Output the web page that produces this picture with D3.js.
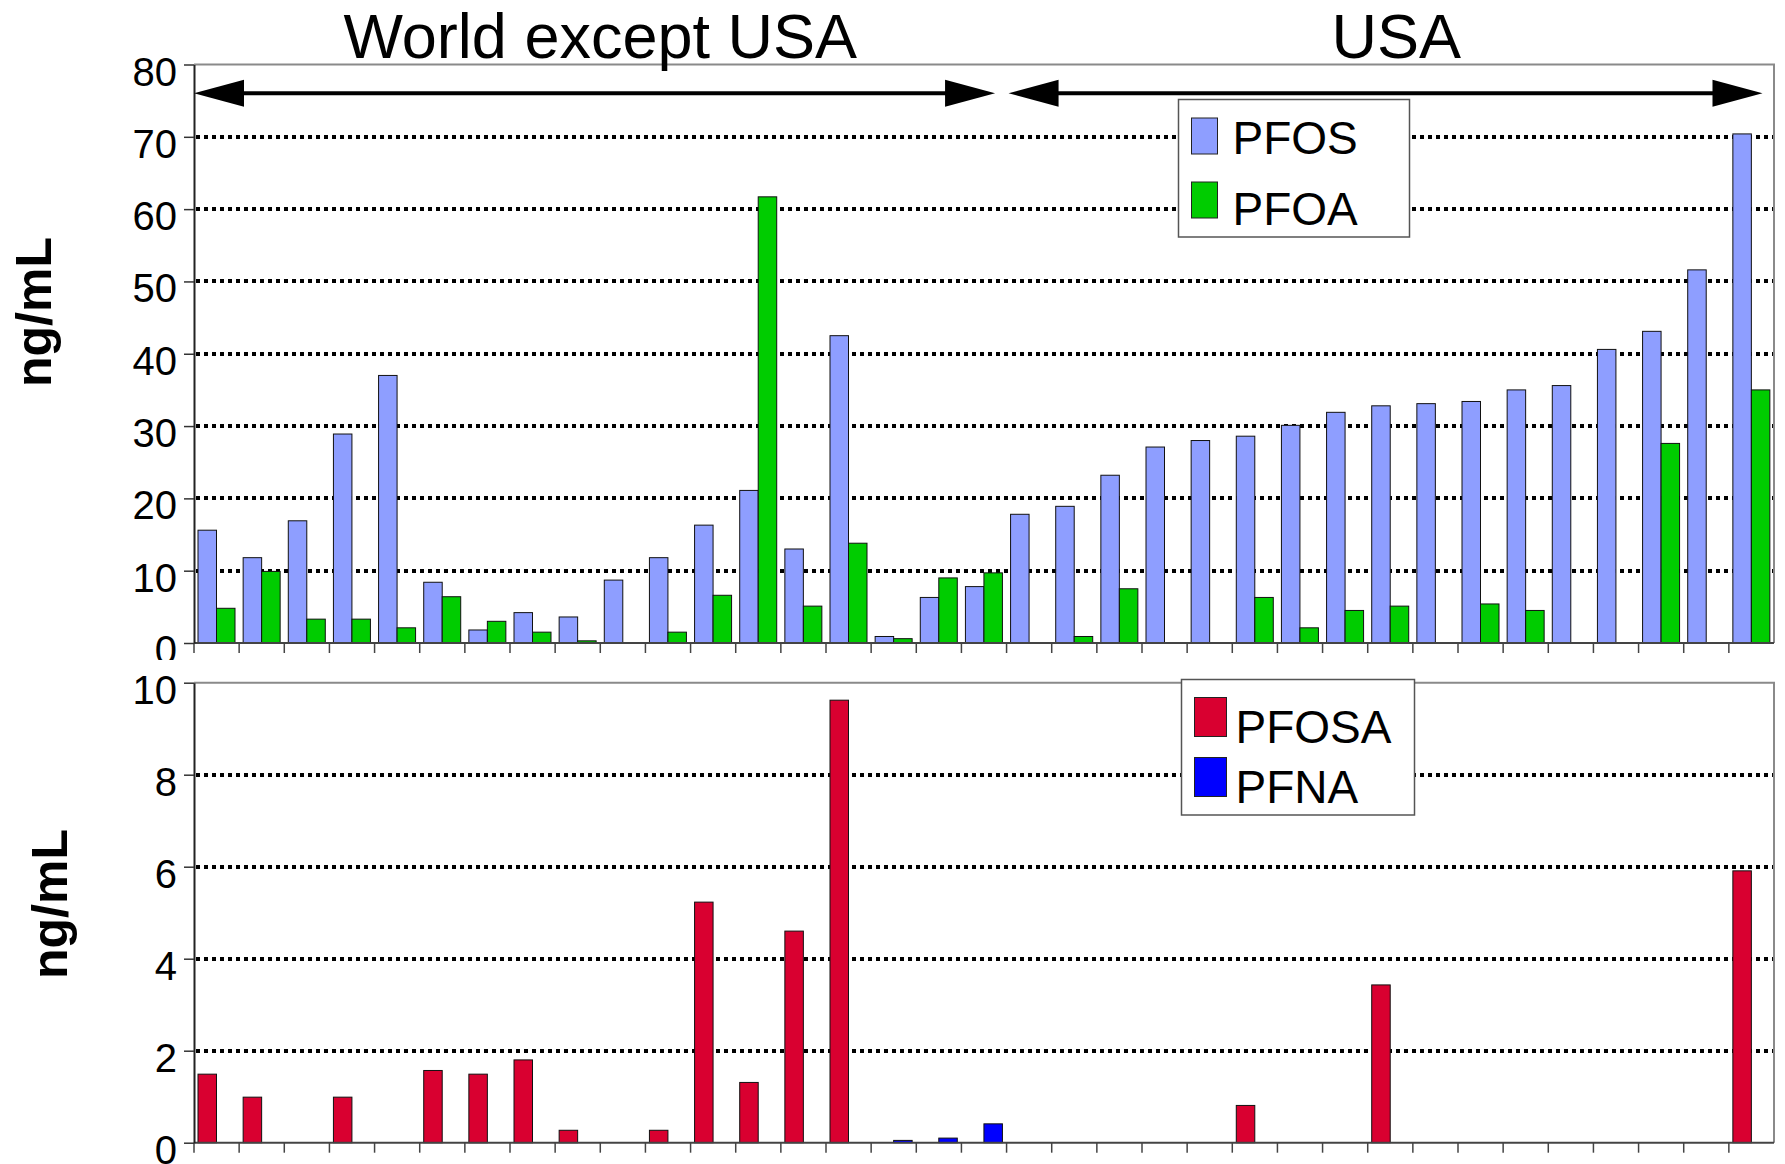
<!DOCTYPE html>
<html>
<head>
<meta charset="utf-8">
<script src="https://cdn.jsdelivr.net/npm/d3@7"></script>
<style>
  body { margin: 0; background: #fff; }
  text { font-family: 'Liberation Sans', Arial, sans-serif; }
</style>
</head>
<body>
<div id="vis"></div>
<script>

var width = 1785,
  height = 1164;

/* Data */

var regions = [ 'World except USA', 'USA' ];
var regionSizes = [ 18, 17 ];

// one entry per sampling site, left to right
var sites = d3.range( 1, 36 );

var pfos = [ 15.6, 11.8, 16.9, 28.9, 37.0, 8.4, 1.8, 4.2, 3.6, 8.7, 11.8, 16.3, 21.1, 13.0, 42.5, 0.9, 6.3, 7.8,
  17.8, 18.9, 23.2, 27.1, 28.0, 28.6, 30.1, 31.9, 32.8, 33.1, 33.4, 35.0, 35.6, 40.6, 43.1, 51.6, 70.4 ];

var pfoa = [ 4.8, 9.9, 3.3, 3.3, 2.1, 6.4, 3.0, 1.5, 0.3, null, 1.5, 6.6, 61.7, 5.1, 13.8, 0.6, 9.0, 9.7,
  null, 0.9, 7.5, null, null, 6.3, 2.1, 4.5, 5.1, null, 5.4, 4.5, null, null, 27.6, null, 35.0 ];

var pfosa = [ 1.49, 0.99, null, 0.99, null, 1.57, 1.49, 1.80, 0.27, null, 0.27, 5.23, 1.31, 4.60, 9.62, null, null, null,
  null, null, null, null, null, 0.81, null, null, 3.43, null, null, null, null, null, null, null, 5.91 ];

var pfna = [ null, null, null, null, null, null, null, null, null, null, null, null, null, null, null, 0.05, 0.10, 0.41,
  null, null, null, null, null, null, null, null, null, null, null, null, null, null, null, null, null ];

var topTicks = [ 0, 10, 20, 30, 40, 50, 60, 70, 80 ];
var bottomTicks = [ 0, 2, 4, 6, 8, 10 ];

var colors = {
  PFOS: '#8e9eff',
  PFOA: '#00cc00',
  PFOSA: '#d90030',
  PFNA: '#0000ff'
};

/* Scales */

var left = 194,
  right = 1774;

var x = d3.scaleBand()
  .domain( sites )
  .range( [ left, right ] )
  .padding( 0 );

var slot = d3.scaleBand()
  .domain( [ 0, 1 ] )
  .range( [ 4, 41 ] );

var yTop = d3.scaleLinear()
  .domain( [ 0, 80 ] )
  .range( [ 643, 64.5 ] );

var yBottom = d3.scaleLinear()
  .domain( [ 0, 10 ] )
  .range( [ 1142.7, 682.7 ] );

/* Drawing */

var svg = d3.select( '#vis' ).append( 'svg' )
  .attr( 'width', width )
  .attr( 'height', height );

function draw_panel( g, y, ticks, series ) {

  var y0 = y( 0 ),
    yMax = y( ticks[ ticks.length - 1 ] );

  // dotted gridlines
  g.selectAll( 'line.grid' )
    .data( ticks.slice( 1, -1 ) )
    .enter().append( 'line' )
      .attr( 'class', 'grid' )
      .attr( 'x1', left + 2 )
      .attr( 'x2', right )
      .attr( 'y1', d => Math.round( y( d ) ) )
      .attr( 'y2', d => Math.round( y( d ) ) )
      .attr( 'stroke', '#000' )
      .attr( 'stroke-width', 4 )
      .attr( 'stroke-dasharray', '4,4' )
      .attr( 'shape-rendering', 'crispEdges' );

  // frame top and right
  g.append( 'path' )
    .attr( 'd', 'M' + left + ',' + yMax + 'H' + right + 'V' + y0 )
    .attr( 'fill', 'none' )
    .attr( 'stroke', '#8a8a8a' )
    .attr( 'stroke-width', 2 );

  // bars
  series.forEach( ( s, k ) => {
    g.selectAll( 'rect.s' + k )
      .data( s.values.map( ( v, i ) => ( { site: sites[ i ], v: v } ) ).filter( d => d.v != null ) )
      .enter().append( 'rect' )
        .attr( 'class', 's' + k )
        .attr( 'x', d => x( d.site ) + slot( s.slot ) )
        .attr( 'y', d => y( d.v ) )
        .attr( 'width', slot.bandwidth() )
        .attr( 'height', d => y0 - y( d.v ) )
        .attr( 'fill', s.color )
        .attr( 'stroke', '#111' )
        .attr( 'stroke-width', 1 );
  } );

  // x axis with ticks at site boundaries
  g.append( 'line' )
    .attr( 'x1', left )
    .attr( 'x2', right )
    .attr( 'y1', y0 )
    .attr( 'y2', y0 )
    .attr( 'stroke', '#444' )
    .attr( 'stroke-width', 2 );

  g.selectAll( 'line.xtick' )
    .data( sites )
    .enter().append( 'line' )
      .attr( 'class', 'xtick' )
      .attr( 'x1', d => x( d ) )
      .attr( 'x2', d => x( d ) )
      .attr( 'y1', y0 )
      .attr( 'y2', y0 + 10 )
      .attr( 'stroke', '#444' )
      .attr( 'stroke-width', 1.5 );

  // y axis
  var axis = g.append( 'g' )
    .attr( 'transform', 'translate(' + left + ',0)' )
    .call( d3.axisLeft( y ).tickValues( ticks ).tickSize( 10 ).tickPadding( 7 ).tickSizeOuter( 0 ) );

  axis.select( '.domain' )
    .attr( 'stroke', '#222' )
    .attr( 'stroke-width', 2 );

  axis.selectAll( '.tick line' )
    .attr( 'stroke', '#333' )
    .attr( 'stroke-width', 1.5 );

  axis.selectAll( '.tick text' )
    .attr( 'dy', '20.5px' )
    .attr( 'fill', '#000' )
    .style( 'font-family', "'Liberation Sans', Arial, sans-serif" )
    .style( 'font-size', '40px' );

}

function draw_legend( g, box, items ) {

  g.append( 'rect' )
    .attr( 'x', box.x )
    .attr( 'y', box.y )
    .attr( 'width', box.w )
    .attr( 'height', box.h )
    .attr( 'fill', '#fff' )
    .attr( 'stroke', '#555' )
    .attr( 'stroke-width', 1.5 );

  items.forEach( it => {
    g.append( 'rect' )
      .attr( 'x', box.x + 13 )
      .attr( 'y', it.top )
      .attr( 'width', box.sw )
      .attr( 'height', box.sh )
      .attr( 'fill', colors[ it.name ] )
      .attr( 'stroke', '#222' )
      .attr( 'stroke-width', 1 );

    g.append( 'text' )
      .attr( 'x', box.x + 54 )
      .attr( 'y', it.base )
      .style( 'font-size', '46px' )
      .text( it.name );
  } );

}

// Top panel: PFOS / PFOA

var topPanel = svg.append( 'g' );

draw_panel( topPanel, yTop, topTicks, [
  { values: pfos, color: colors.PFOS, slot: 0 },
  { values: pfoa, color: colors.PFOA, slot: 1 }
] );

draw_legend( topPanel, { x: 1178.5, y: 99.5, w: 231, h: 137.5, sw: 26, sh: 36 }, [
  { name: 'PFOS', top: 118, base: 154 },
  { name: 'PFOA', top: 182, base: 225 }
] );

// region titles and arrows
var arrowY = 93.3,
  headLen = 50,
  headHalf = 13.5;

var start = 0;
regions.forEach( ( r, i ) => {
  var first = sites[ start ],
    last = sites[ start + regionSizes[ i ] - 1 ];
  var x0 = x( first ) + ( i === 0 ? 0 : 2 ),
    x1 = x( last ) + x.bandwidth() - 11.5;

  topPanel.append( 'line' )
    .attr( 'x1', x0 + headLen - 2 )
    .attr( 'x2', x1 - headLen + 2 )
    .attr( 'y1', arrowY )
    .attr( 'y2', arrowY )
    .attr( 'stroke', '#000' )
    .attr( 'stroke-width', 4 );

  topPanel.append( 'path' )
    .attr( 'd', 'M' + x0 + ',' + arrowY + 'L' + ( x0 + headLen ) + ',' + ( arrowY - headHalf ) + 'V' + ( arrowY + headHalf ) + 'Z' )
    .attr( 'fill', '#000' );

  topPanel.append( 'path' )
    .attr( 'd', 'M' + x1 + ',' + arrowY + 'L' + ( x1 - headLen ) + ',' + ( arrowY - headHalf ) + 'V' + ( arrowY + headHalf ) + 'Z' )
    .attr( 'fill', '#000' );

  topPanel.append( 'text' )
    .attr( 'x', ( x( first ) + x( last ) + x.bandwidth() ) / 2 + ( i === 0 ? 0 : 6 ) )
    .attr( 'y', 58 )
    .attr( 'text-anchor', 'middle' )
    .style( 'font-size', '63px' )
    .text( r );

  start += regionSizes[ i ];
} );

topPanel.append( 'text' )
  .attr( 'transform', 'translate(51,312) rotate(-90)' )
  .attr( 'text-anchor', 'middle' )
  .style( 'font-size', '50px' )
  .style( 'font-weight', 'bold' )
  .text( 'ng/mL' );

// Bottom panel: PFOSA / PFNA (covers the overflow of the top panel)

var bottomPanel = svg.append( 'g' );

bottomPanel.append( 'rect' )
  .attr( 'x', 0 )
  .attr( 'y', 660 )
  .attr( 'width', width )
  .attr( 'height', height - 660 )
  .attr( 'fill', '#fff' );

draw_panel( bottomPanel, yBottom, bottomTicks, [
  { values: pfosa, color: colors.PFOSA, slot: 0 },
  { values: pfna, color: colors.PFNA, slot: 1 }
] );

draw_legend( bottomPanel, { x: 1181.5, y: 679.5, w: 233, h: 135.5, sw: 32, sh: 39 }, [
  { name: 'PFOSA', top: 697.5, base: 742.7 },
  { name: 'PFNA', top: 757.5, base: 803.3 }
] );

bottomPanel.append( 'text' )
  .attr( 'transform', 'translate(67,904) rotate(-90)' )
  .attr( 'text-anchor', 'middle' )
  .style( 'font-size', '50px' )
  .style( 'font-weight', 'bold' )
  .text( 'ng/mL' );

</script>
</body>
</html>
